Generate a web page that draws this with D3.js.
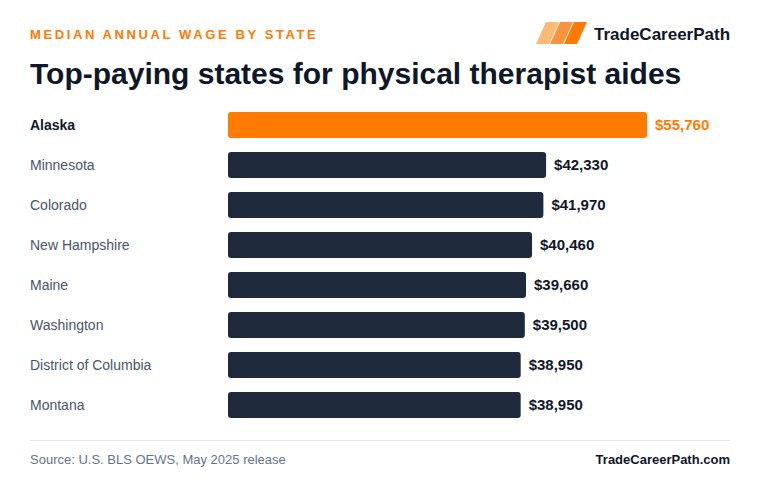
<!DOCTYPE html>
<html>
<head>
<meta charset="utf-8">
<script src="https://cdn.jsdelivr.net/npm/d3@7"></script>
<style>
  body { margin: 0; background: #fff; }
  svg text { font-family: "Liberation Sans", Arial, Helvetica, sans-serif; }
</style>
</head>
<body>
<div id="chart"></div>
<script>
/** Chart data. */
const states = ["Alaska", "Minnesota", "Colorado", "New Hampshire", "Maine", "Washington", "District of Columbia", "Montana"];
const wages = [55760, 42330, 41970, 40460, 39660, 39500, 38950, 38950];
const highlight = "Alaska";

const WIDTH = 760;
const HEIGHT = 496;

const ORANGE = "#ff7a00";
const NAVY = "#1e293b";
const INK = "#0f172a";

const BAR_X = 228;
const BAR_MAX = 419;

let svg = d3.select("#chart").append("svg")
    .attr("width", WIDTH)
    .attr("height", HEIGHT);

svg.append("rect")
    .attr("width", WIDTH)
    .attr("height", HEIGHT)
    .attr("fill", "#ffffff");

// Header
svg.append("text")
    .attr("x", 30)
    .attr("y", 39)
    .attr("fill", ORANGE)
    .attr("font-size", 13)
    .attr("font-weight", "bold")
    .attr("letter-spacing", 2.6)
    .text("MEDIAN ANNUAL WAGE BY STATE");

svg.append("text")
    .attr("x", 30)
    .attr("y", 84)
    .attr("fill", INK)
    .attr("font-size", 30)
    .attr("font-weight", "bold")
    .text("Top-paying states for physical therapist aides");

// Logo: three slanted stripes
const stripeColors = ["#fdba74", "#fb923c", ORANGE];
svg.append("g")
    .selectAll("path")
    .data(stripeColors)
    .enter()
    .append("path")
    .attr("d", (d, i) => {
        const x0 = 536 + i * 14;
        return `M${x0},44 L${x0 + 10},22 L${x0 + 23},22 L${x0 + 13},44 Z`;
    })
    .attr("fill", d => d);

svg.append("text")
    .attr("x", 594)
    .attr("y", 40)
    .attr("fill", INK)
    .attr("font-size", 17)
    .attr("font-weight", "bold")
    .text("TradeCareerPath");

// Scales
const x = d3.scaleLinear()
    .domain([0, d3.max(wages)])
    .range([0, BAR_MAX]);

const y = d3.scaleBand()
    .domain(states)
    .range([105, 425])
    .paddingInner(0.35)
    .paddingOuter(0.175);

const rows = states.map((s, i) => ({ state: s, wage: wages[i] }));

const row = svg.append("g")
    .selectAll("g")
    .data(rows)
    .enter()
    .append("g");

row.append("text")
    .attr("x", 30)
    .attr("y", d => y(d.state) + y.bandwidth() / 2)
    .attr("dy", "0.35em")
    .attr("font-size", 14)
    .attr("font-weight", d => d.state === highlight ? "bold" : "normal")
    .attr("fill", d => d.state === highlight ? INK : "#475569")
    .text(d => d.state);

row.append("rect")
    .attr("x", BAR_X)
    .attr("y", d => y(d.state))
    .attr("width", d => x(d.wage))
    .attr("height", y.bandwidth())
    .attr("rx", 3)
    .attr("fill", d => d.state === highlight ? ORANGE : NAVY);

row.append("text")
    .attr("x", d => BAR_X + x(d.wage) + 8)
    .attr("y", d => y(d.state) + y.bandwidth() / 2)
    .attr("dy", "0.35em")
    .attr("font-size", 15)
    .attr("font-weight", "bold")
    .attr("fill", d => d.state === highlight ? ORANGE : INK)
    .text(d => "$" + d3.format(",")(d.wage));

// Footer
svg.append("line")
    .attr("x1", 30)
    .attr("x2", 730)
    .attr("y1", 440.5)
    .attr("y2", 440.5)
    .attr("stroke", "#e2e8f0")
    .attr("stroke-width", 1);

svg.append("text")
    .attr("x", 30)
    .attr("y", 464)
    .attr("fill", "#64748b")
    .attr("font-size", 13)
    .text("Source: U.S. BLS OEWS, May 2025 release");

svg.append("text")
    .attr("x", 730)
    .attr("y", 464)
    .attr("text-anchor", "end")
    .attr("fill", INK)
    .attr("font-size", 13)
    .attr("font-weight", "bold")
    .text("TradeCareerPath.com");
</script>
</body>
</html>
